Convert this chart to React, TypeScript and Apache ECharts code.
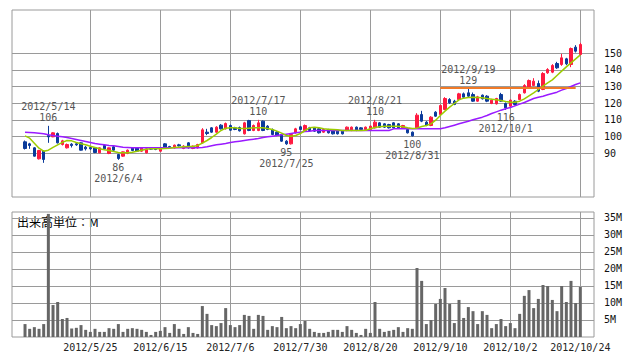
import React, { useEffect, useRef } from "react";
import * as echarts from "echarts";

const dates = [
  "2012/5/7","2012/5/8","2012/5/9","2012/5/10","2012/5/11","2012/5/14","2012/5/15","2012/5/16","2012/5/17","2012/5/18",
  "2012/5/21","2012/5/22","2012/5/23","2012/5/24","2012/5/25","2012/5/28","2012/5/29","2012/5/30","2012/5/31","2012/6/1",
  "2012/6/4","2012/6/5","2012/6/6","2012/6/7","2012/6/8","2012/6/11","2012/6/12","2012/6/13","2012/6/14","2012/6/15",
  "2012/6/18","2012/6/19","2012/6/20","2012/6/21","2012/6/22","2012/6/25","2012/6/26","2012/6/27","2012/6/28","2012/6/29",
  "2012/7/2","2012/7/3","2012/7/4","2012/7/5","2012/7/6","2012/7/9","2012/7/10","2012/7/11","2012/7/12","2012/7/13",
  "2012/7/17","2012/7/18","2012/7/19","2012/7/20","2012/7/23","2012/7/24","2012/7/25","2012/7/26","2012/7/27","2012/7/30",
  "2012/7/31","2012/8/1","2012/8/2","2012/8/3","2012/8/6","2012/8/7","2012/8/8","2012/8/9","2012/8/10","2012/8/13",
  "2012/8/14","2012/8/15","2012/8/16","2012/8/17","2012/8/20","2012/8/21","2012/8/22","2012/8/23","2012/8/24","2012/8/27",
  "2012/8/28","2012/8/29","2012/8/30","2012/8/31","2012/9/3","2012/9/4","2012/9/5","2012/9/6","2012/9/7","2012/9/10",
  "2012/9/11","2012/9/12","2012/9/13","2012/9/14","2012/9/18","2012/9/19","2012/9/20","2012/9/21","2012/9/24","2012/9/25",
  "2012/9/26","2012/9/27","2012/9/28","2012/10/1","2012/10/2","2012/10/3","2012/10/4","2012/10/5","2012/10/9","2012/10/10",
  "2012/10/11","2012/10/12","2012/10/15","2012/10/16","2012/10/17","2012/10/18","2012/10/19","2012/10/22","2012/10/23","2012/10/24",
];

const opens = [
  96.8,95.6,93.2,86.6,91.2,100.6,99.8,101.8,95.2,93.2,
  95.4,95.6,96.2,93.6,93.4,93.2,90.2,94.6,89.8,93.8,
  89.2,88.2,89.8,93.2,93.2,91.2,90.2,92.8,92.8,91.2,
  95.6,94.0,93.2,95.0,92.8,96.2,92.8,93.2,96.2,102.6,
  105.2,102.6,106.8,104.6,106.6,105.2,105.4,101.6,109.6,103.6,
  103.6,109.2,106.2,104.2,102.6,101.2,97.2,95.6,102.2,105.8,
  103.6,105.2,105.2,104.6,102.6,104.2,103.6,103.2,103.2,103.6,
  103.6,105.6,105.2,104.2,104.2,105.2,108.2,107.6,107.2,108.2,
  107.6,105.2,104.2,102.6,105.2,113.2,108.6,106.6,114.6,113.2,
  116.2,122.2,121.2,122.2,125.6,126.2,125.2,121.2,124.8,124.2,
  119.8,119.6,125.2,119.8,118.2,121.2,122.2,126.2,129.2,130.6,
  131.8,128.2,138.2,138.6,143.8,143.2,146.6,143.2,153.6,149.2,
];
const closes = [
  92.8,94.6,88.2,91.6,86.2,99.8,102.2,96.2,97.4,95.2,
  94.6,95.0,91.8,92.6,92.6,90.4,93.2,92.6,93.2,91.8,
  86.8,90.8,91.8,91.6,91.2,93.2,92.6,92.4,92.2,92.6,
  93.6,93.4,94.8,94.4,94.2,93.2,94.2,95.2,104.0,101.8,
  102.6,105.6,104.6,107.8,103.8,104.2,103.4,108.2,103.6,106.6,
  108.2,103.6,104.2,101.2,100.6,97.2,95.6,101.2,104.6,104.2,
  106.6,103.6,103.2,102.2,104.2,102.2,101.6,101.6,101.6,105.6,
  105.6,103.6,104.2,105.6,106.2,108.6,105.6,105.6,105.2,105.2,
  105.2,106.6,102.2,100.4,112.8,109.2,106.8,111.6,112.2,118.6,
  122.8,120.2,119.2,125.6,123.6,124.2,121.2,123.8,122.6,121.2,
  121.8,122.8,121.2,117.2,121.8,119.2,125.2,130.6,133.6,133.2,
  127.2,137.8,140.2,142.6,141.2,147.2,143.6,152.8,151.2,155.2,
];
const lows = [
  92.2,92.6,88.0,86.2,84.2,96.2,99.6,95.8,94.6,92.8,
  93.4,94.4,91.6,91.6,92.0,90.0,90.0,92.2,89.4,91.4,
  86.0,87.8,89.4,91.2,90.8,90.8,89.8,92.0,91.8,90.8,
  93.2,93.0,92.8,94.0,92.4,92.8,92.4,92.8,95.8,100.8,
  102.2,102.2,104.2,104.2,103.4,103.8,103.0,101.2,103.2,103.2,
  103.2,103.2,103.8,100.8,100.2,96.8,95.0,95.2,101.8,103.8,
  103.2,103.2,102.8,101.8,102.2,101.8,101.2,101.2,101.2,103.2,
  103.2,103.2,103.8,103.8,103.8,104.8,105.2,105.2,104.8,104.8,
  104.8,104.8,101.8,100.0,104.8,108.6,106.2,106.2,111.8,112.8,
  115.8,119.6,118.8,121.8,123.2,123.6,120.8,120.8,122.2,120.6,
  119.4,119.2,120.8,116.0,117.6,118.6,121.8,125.8,128.6,130.2,
  126.6,127.8,137.6,138.0,140.6,142.4,142.8,141.6,150.4,148.6,
];
const highs = [
  97.6,96.2,93.6,92.0,91.6,106.4,102.6,102.4,98.0,95.8,
  96.0,96.2,96.6,94.4,94.0,93.6,93.4,95.2,93.4,94.4,
  89.6,91.0,92.2,93.6,93.4,93.6,93.0,93.2,93.2,93.0,
  96.0,94.4,95.2,95.6,94.8,96.6,94.6,95.6,105.0,104.6,
  105.6,106.2,107.4,108.4,107.2,105.8,106.0,108.8,110.0,107.2,
  110.0,109.6,106.8,104.8,103.2,101.6,97.8,101.6,105.2,106.4,
  107.2,105.8,105.6,105.0,104.6,104.6,104.0,103.6,103.6,106.0,
  106.0,106.0,105.6,106.0,106.6,110.0,108.6,108.0,107.6,108.6,
  108.0,107.0,104.6,103.0,114.0,115.4,109.2,112.2,115.2,119.2,
  123.6,123.0,122.0,126.2,126.4,129.0,126.4,124.4,125.2,124.8,
  122.6,123.2,126.2,120.4,122.2,121.8,125.8,131.4,134.2,135.0,
  133.6,138.6,141.0,143.4,144.8,149.6,147.2,153.4,154.8,156.2,
];

const shortAverage = [
  100.4,99.0,96.0,93.0,91.2,91.8,93.5,95.0,96.5,97.6,
  97.4,96.4,95.6,95.0,94.2,93.4,92.6,92.0,91.6,91.0,
  90.4,90.2,90.2,90.6,91.2,91.8,92.4,92.6,92.6,92.6,
  92.8,93.0,93.4,93.6,93.8,94.0,94.0,94.6,96.0,97.6,
  99.4,101.4,103.6,105.0,105.2,105.2,104.8,104.8,105.0,105.2,
  105.2,105.2,104.8,104.2,103.2,102.0,100.6,100.2,100.6,101.8,
  103.6,105.2,105.6,105.2,104.6,104.4,104.2,104.0,103.6,103.6,
  103.6,103.6,103.6,103.8,104.6,105.4,105.8,106.2,106.2,106.2,
  106.2,105.8,105.2,104.8,105.0,106.0,106.6,107.6,109.8,112.6,
  115.2,117.6,119.8,122.0,123.0,123.4,123.6,123.4,123.2,122.8,
  122.4,122.0,121.6,121.0,120.6,120.6,121.2,122.6,124.4,126.2,
  128.2,130.2,132.2,134.0,136.6,139.2,141.8,144.2,146.6,149.0,
];
const longAverage = [
  102.6,102.4,102.2,102.0,101.6,101.0,100.6,100.2,99.8,99.4,
  98.8,98.2,97.6,97.0,96.4,95.8,95.4,95.0,94.6,94.4,
  94.0,93.6,93.4,93.2,93.2,93.2,93.2,93.2,93.2,93.2,
  93.2,93.2,93.2,93.2,93.2,93.2,93.2,93.2,93.4,93.8,
  94.4,95.0,95.4,95.8,96.4,96.8,97.2,97.6,98.0,98.4,
  98.8,99.4,99.8,100.2,100.6,101.0,101.4,101.8,102.2,102.6,
  103.0,103.2,103.6,103.6,103.6,103.6,103.6,103.6,103.6,103.6,
  103.6,103.6,103.6,103.6,103.6,103.6,103.6,103.6,103.6,104.6,
  104.6,104.6,104.6,104.6,104.6,104.6,104.6,104.6,104.6,104.6,
  105.2,106.0,106.8,107.6,108.4,109.2,110.0,110.8,111.6,112.6,
  113.8,114.8,115.8,116.6,117.4,118.4,119.4,120.4,121.6,122.8,
  123.6,124.2,125.0,125.8,126.6,127.8,128.8,130.0,131.2,132.2,
];

const volumes = [
  3.8,2.4,2.9,2.4,3.8,36.2,9.4,10.3,5.3,5.6,
  2.5,2.7,3.5,2.1,1.5,2.4,1.5,1.5,2.6,2.4,
  3.8,1.5,2.4,2.6,2.4,2.1,1.5,0.6,1.5,1.8,
  2.9,1.2,3.8,2.4,0.9,2.9,1.2,0.9,9.1,6.8,
  3.5,3.2,4.1,8.5,3.5,2.9,3.5,6.5,6.2,2.4,
  6.5,6.2,2.1,3.2,2.9,5.9,2.6,3.2,2.6,3.8,
  4.7,2.4,1.5,1.2,1.2,1.5,2.1,2.1,1.5,3.2,
  2.1,1.2,0.6,2.4,1.2,10.3,2.4,1.5,1.8,2.1,
  2.9,1.5,2.6,2.4,20.3,16.5,3.8,5.0,9.7,11.2,
  14.4,9.7,4.1,10.9,5.6,8.8,7.6,3.8,7.6,6.5,
  2.6,3.8,5.3,3.2,4.1,2.6,6.8,12.1,13.8,8.5,
  11.2,15.3,15.0,10.9,7.6,15.0,10.3,16.5,10.0,14.7,
];

const priceTicks = [90, 100, 110, 120, 130, 140, 150];
const volumeTicks = [5, 10, 15, 20, 25, 30, 35];
const dateTickIndexes = [14, 29, 44, 59, 74, 89, 104, 119];

const highMarkIndexes = [5, 50, 75, 95];
const highMarkLabels = ["106", "110", "110", "129"];
const lowMarkIndexes = [20, 56, 83, 103];
const lowMarkLabels = ["86", "95", "100", "116"];

const resistanceValue = 129;
const resistanceFrom = 89;
const resistanceTo = 118;

const volumeCaption = "出来高単位：M";

export default function App() {
  const ref = useRef<HTMLDivElement>(null);
  useEffect(() => {
    if (!ref.current) return;
    const chart = echarts.init(ref.current, undefined, { renderer: "svg" });
    const mono = "'DejaVu Sans Mono', monospace";
    const gridColor = "#9a9a9a";
    const xMin = -2.79;
    const xMax = 121.93;

    const marks = [
      ...highMarkIndexes.map((idx, k) => ({
        coord: [idx, highs[idx]],
        value: highMarkLabels[k],
        label: { position: "top", distance: 2, formatter: dates[idx] + "\n" + highMarkLabels[k] },
      })),
      ...lowMarkIndexes.map((idx, k) => ({
        coord: [idx, lows[idx]],
        value: lowMarkLabels[k],
        label: { position: "bottom", distance: 2, formatter: lowMarkLabels[k] + "\n" + dates[idx] },
      })),
    ];

    const baseX = (gridIndex: number, showLabel: boolean) => ({
      type: "value",
      gridIndex,
      min: xMin,
      max: xMax,
      axisLine: { show: false },
      axisTick: { show: false, customValues: dateTickIndexes },
      axisLabel: {
        show: showLabel,
        customValues: dateTickIndexes,
        formatter: (v: number) => dates[Math.round(v)] ?? "",
        margin: 5,
        fontSize: 10,
        fontFamily: mono,
        color: "#222",
      },
      splitLine: { show: true, lineStyle: { color: gridColor, width: 1 } },
    });

    chart.setOption({
      animation: false,
      backgroundColor: "#fff",
      grid: [
        { left: 12, top: 10, width: 582, height: 187, show: true, borderColor: gridColor, borderWidth: 1 },
        { left: 12, top: 212, width: 582, height: 125, show: true, borderColor: gridColor, borderWidth: 1 },
      ],
      xAxis: [baseX(0, false), baseX(1, true)],
      yAxis: [
        {
          type: "value",
          gridIndex: 0,
          position: "right",
          min: 63.7,
          max: 175.9,
          axisLine: { show: false },
          axisTick: { show: false, customValues: priceTicks },
          axisLabel: { customValues: priceTicks, margin: 10, fontSize: 10, fontFamily: mono, color: "#111" },
          splitLine: { show: true, lineStyle: { color: gridColor, width: 1 } },
        },
        {
          type: "value",
          gridIndex: 1,
          position: "right",
          min: 0,
          max: 36.76,
          axisLine: { show: false },
          axisTick: { show: false, customValues: volumeTicks },
          axisLabel: {
            customValues: volumeTicks,
            margin: 10,
            fontSize: 10,
            fontFamily: mono,
            color: "#111",
            formatter: (v: number) => v + "M",
          },
          splitLine: { show: true, lineStyle: { color: gridColor, width: 1 } },
        },
      ],
      series: [
        {
          type: "line",
          xAxisIndex: 0,
          yAxisIndex: 0,
          data: longAverage.map((v, i) => [i, v]),
          showSymbol: false,
          lineStyle: { color: "#9a1aff", width: 1.5 },
          z: 3,
        },
        {
          type: "line",
          xAxisIndex: 0,
          yAxisIndex: 0,
          data: shortAverage.map((v, i) => [i, v]),
          showSymbol: false,
          lineStyle: { color: "#9ccc00", width: 1.5 },
          z: 4,
        },
        {
          type: "candlestick",
          xAxisIndex: 0,
          yAxisIndex: 0,
          barWidth: 3,
          data: dates.map((_, i) => [i, opens[i], closes[i], lows[i], highs[i]]),
          encode: { x: 0, y: [1, 2, 3, 4] },
          itemStyle: {
            color: "#ff1a40",
            color0: "#0a3a9a",
            borderColor: "#ff1a40",
            borderColor0: "#0a3a9a",
            borderWidth: 1,
          },
          z: 2,
          markPoint: {
            silent: true,
            symbol: "circle",
            symbolSize: 1,
            itemStyle: { color: "rgba(0,0,0,0)" },
            label: { show: true, fontSize: 10, lineHeight: 11, fontFamily: mono, color: "#555" },
            data: marks,
          },
          markLine: {
            silent: true,
            symbol: ["none", "none"],
            label: { show: false },
            lineStyle: { color: "#f07a28", width: 2, type: "solid" },
            data: [[{ coord: [resistanceFrom, resistanceValue] }, { coord: [resistanceTo, resistanceValue] }]],
          },
        },
        {
          type: "bar",
          xAxisIndex: 1,
          yAxisIndex: 1,
          barWidth: 3,
          data: volumes.map((v, i) => [i, v]),
          itemStyle: { color: "#666" },
        },
      ],
      graphic: [
        {
          type: "text",
          left: 17,
          top: 215,
          style: { text: volumeCaption, font: "12px 'Noto Sans CJK JP'", fill: "#000" },
        },
      ],
    });
    return () => chart.dispose();
  }, []);
  return (
    <div
      ref={ref}
      style={{ position: "fixed", left: 0, top: 0, width: 638, height: 362, background: "#fff" }}
    />
  );
}
